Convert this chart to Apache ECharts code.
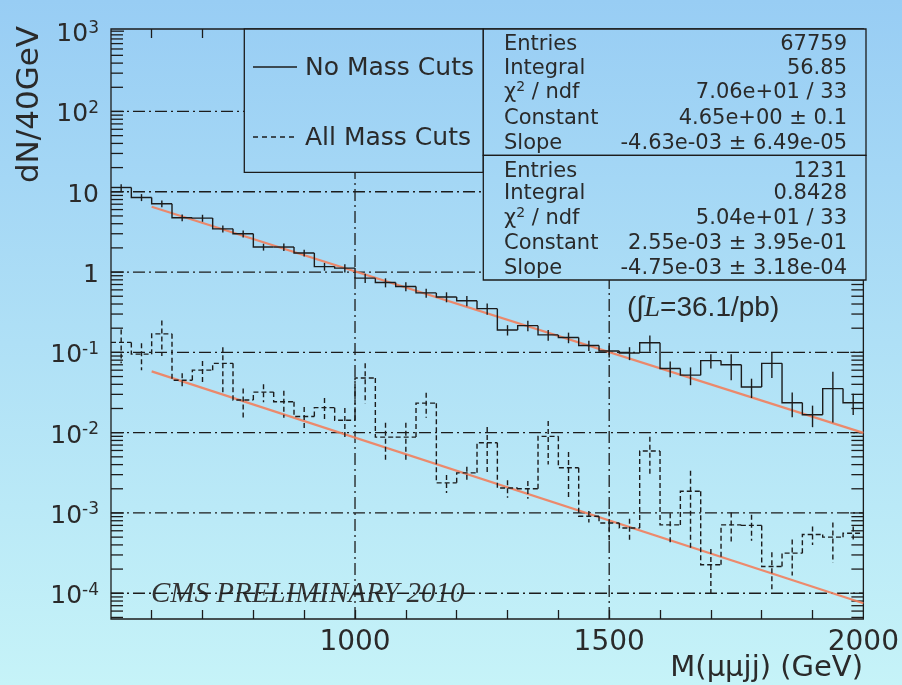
<!DOCTYPE html>
<html>
<head>
<meta charset="utf-8">
<script src="https://cdn.jsdelivr.net/npm/echarts@6/dist/echarts.min.js"></script>
<style>
  html, body { margin: 0; padding: 0; }
  #chart { width: 902px; height: 685px; }
</style>
</head>
<body>
<div id="chart"></div>
<script>
// ---- histogram binning: 40 GeV bins from 520 to 2000 GeV ----
const binLow = 520;
const binWidth = 40;

// dN/40GeV, no mass cuts (solid) and bin errors
const noCutVals = [11.3, 8.5, 7.1, 4.75, 4.7, 3.45, 3.0, 2.05, 2.05, 1.73,
                   1.17, 1.12, 0.84, 0.74, 0.66, 0.55, 0.49, 0.44, 0.35, 0.19,
                   0.215, 0.165, 0.153, 0.122, 0.104, 0.098, 0.132, 0.063, 0.052, 0.079,
                   0.07, 0.037, 0.073, 0.0236, 0.0167, 0.0354, 0.0236];
const noCutErrs = [1.1, 0.85, 0.7, 0.47, 0.47, 0.35, 0.3, 0.2, 0.22, 0.17,
                   0.13, 0.13, 0.11, 0.095, 0.085, 0.07, 0.07, 0.065, 0.055, 0.028,
                   0.032, 0.025, 0.023, 0.018, 0.018, 0.018, 0.03, 0.014, 0.013, 0.016,
                   0.025, 0.01, 0.025, 0.008, 0.005, 0.022, 0.007];

// dN/40GeV, all mass cuts (dashed) and bin errors
const allCutVals = [0.133, 0.095, 0.17, 0.045, 0.06, 0.073, 0.0255, 0.032, 0.0243, 0.0159,
                    0.0205, 0.0143, 0.048, 0.0088, 0.0088, 0.0233, 0.00237, 0.00316, 0.0075, 0.00205,
                    0.002, 0.009, 0.00365, 0.00091, 0.00075, 0.00065, 0.0059, 0.00071, 0.00186, 0.000226,
                    0.00071, 0.0007, 0.000215, 0.000316, 0.00054, 0.0005, 0.00056];
const allCutErrs = [0.06, 0.035, 0.08, 0.01, 0.018, 0.043, 0.01, 0.008, 0.009, 0.005,
                    0.0065, 0.006, 0.025, 0.0045, 0.0045, 0.008, 0.0006, 0.0006, 0.0043, 0.0005,
                    0.0005, 0.005, 0.0021, 0.00015, 0.0003, 0.0002, 0.003, 0.00028, 0.0015, 0.00013,
                    0.0003, 0.00025, 0.00011, 0.00015, 0.00014, 0.00026, 0.00012];

// exponential fits: f(x) = exp(constant + slope * x)
const fitRange = [600, 2000];
const fitNoCut = [4.65, -4.63e-3];
const fitAllCut = [2.55e-3, -4.75e-3];

// stat box contents
const statLabels = ['Entries', 'Integral', 'CHI2', 'Constant', 'Slope'];
const statsNoCut = ['67759', '56.85', '7.06e+01 / 33', '4.65e+00 \u00b1 0.1', '-4.63e-03 \u00b1 6.49e-05'];
const statsAllCut = ['1231', '0.8428', '5.04e+01 / 33', '2.55e-03 \u00b1 3.95e-01', '-4.75e-03 \u00b1 3.18e-04'];

// axes
const xMin = 520, xMax = 2000;
const yMin = 4.78e-5, yMax = 1064;
const xLabelVals = [1000, 1500, 2000];
const xTickVals = [600, 700, 800, 900, 1000, 1100, 1200, 1300, 1400, 1500, 1600, 1700, 1800, 1900];
const yDecades = [1e-4, 1e-3, 1e-2, 1e-1, 1, 10, 100, 1000];
const xGridVals = [1000, 1500];

const INK = '#1c1c1c';
const TXT = '#2a2a2a';
const bgStops = [{ offset: 0, color: '#98cdf4' }, { offset: 1, color: '#c6f3f8' }];

document.body.style.background = '#b0e0f6';
const chart = echarts.init(document.getElementById('chart'), null, { renderer: 'canvas', width: 902, height: 685 });

function histSeries(name, vals, errs, dashed) {
  const data = vals.map((v, k) => [binLow + k * binWidth, binLow + (k + 1) * binWidth, v, k ? vals[k - 1] : v, errs[k]]);
  return {
    type: 'custom', name: name, z: 6, silent: true,
    encode: { x: [0, 1], y: 2 },
    data: data,
    renderItem: function (params, api) {
      const x0 = api.value(0), x1 = api.value(1), v = api.value(2), pv = api.value(3), e = api.value(4);
      const a = api.coord([x0, pv]), b = api.coord([x0, v]), c = api.coord([x1, v]);
      const xc = (x0 + x1) / 2;
      const hi = api.coord([xc, Math.min(v + e, yMax)]);
      const lo = api.coord([xc, Math.max(v - e, yMin)]);
      const style = { stroke: INK, lineWidth: 1.4, fill: null, lineDash: dashed ? [5, 3] : null };
      return {
        type: 'group',
        children: [
          { type: 'polyline', shape: { points: [a, b, c] }, style: style },
          { type: 'line', shape: { x1: hi[0], y1: hi[1], x2: lo[0], y2: lo[1] }, style: style }
        ]
      };
    }
  };
}

function fitSeries(par) {
  return {
    type: 'line', z: 4, silent: true, showSymbol: false, animation: false,
    data: fitRange.map(x => [x, Math.exp(par[0] + par[1] * x)]),
    lineStyle: { color: '#f27e5c', width: 2.2, opacity: 0.9 }
  };
}

// minor/major ticks of the log axis on both frame sides
const yTickData = [];
for (let e = -5; e <= 3; e++) {
  for (let m = 1; m <= 9; m++) {
    const v = m * Math.pow(10, e);
    if (v > yMin && v < yMax) yTickData.push([xMin, v, m === 1 ? 1 : 0]);
  }
}

const gridData = yDecades.filter(v => v < 500).map(v => [xMin, v, 0])
  .concat(xGridVals.map(x => [x, yMin, 1]));

function supLabel(v) {
  const p = Math.round(Math.log10(v));
  if (p === 0) return '{b|1}';
  if (p === 1) return '{b|10}';
  return '{b|10}{s|' + p + '}';
}

const boxFill = new echarts.graphic.LinearGradient(0, 0, 0, 685, bgStops, true);

const graphics = [];
// legend box
graphics.push({ type: 'rect', z: 50, shape: { x: 244.3, y: 29, width: 239, height: 143.3 },
  style: { fill: boxFill, stroke: INK, lineWidth: 1.3 } });
graphics.push({ type: 'line', z: 51, shape: { x1: 253, y1: 67, x2: 297, y2: 67 }, style: { stroke: INK, lineWidth: 1.4 } });
graphics.push({ type: 'line', z: 51, shape: { x1: 253, y1: 137, x2: 297, y2: 137 }, style: { stroke: INK, lineWidth: 1.4, lineDash: [5, 4] } });
graphics.push({ type: 'text', z: 51, x: 305, y: 68, style: { text: 'No Mass Cuts', font: '25px "DejaVu Sans"', fill: TXT, textAlign: 'left', textVerticalAlign: 'middle' } });
graphics.push({ type: 'text', z: 51, x: 305, y: 138, style: { text: 'All Mass Cuts', font: '25px "DejaVu Sans"', fill: TXT, textAlign: 'left', textVerticalAlign: 'middle' } });

// stat boxes
const statBoxes = [
  { top: 29, height: 126.3, rows: [45, 68.5, 92.5, 119, 144], vals: statsNoCut },
  { top: 155.3, height: 124.7, rows: [171.5, 194, 218.5, 244, 269], vals: statsAllCut }
];
const statRich = {
  g: { fontSize: 21, fontFamily: 'DejaVu Sans', fill: TXT, lineHeight: 24 },
  s: { fontSize: 14, fontFamily: 'DejaVu Sans', fill: TXT, lineHeight: 12, verticalAlign: 'top' }
};
statBoxes.forEach(box => {
  graphics.push({ type: 'rect', z: 50, shape: { x: 483.3, y: box.top, width: 382.7, height: box.height },
    style: { fill: boxFill, stroke: INK, lineWidth: 1.3 } });
  statLabels.forEach((lab, i) => {
    const txt = lab === 'CHI2' ? '{g|\u03c7}{s|2}{g| / ndf}' : '{g|' + lab + '}';
    graphics.push({ type: 'text', z: 51, x: 504, y: box.rows[i],
      style: { text: txt, rich: statRich, textAlign: 'left', textVerticalAlign: 'middle' } });
    graphics.push({ type: 'text', z: 51, x: 847, y: box.rows[i],
      style: { text: box.vals[i], font: '21px "DejaVu Sans"', fill: TXT, textAlign: 'right', textVerticalAlign: 'middle' } });
  });
});

// luminosity note
graphics.push({ type: 'text', z: 51, x: 627, y: 308,
  style: { text: '{n|(\u222b}{i|L}{n|=36.1/pb)}', textAlign: 'left', textVerticalAlign: 'middle',
    rich: {
      n: { fontSize: 28, fontFamily: 'Liberation Sans', fill: TXT },
      i: { fontSize: 29, fontFamily: 'Liberation Serif', fontStyle: 'italic', fill: TXT }
    } } });

// preliminary stamp
graphics.push({ type: 'text', z: 0, x: 151, y: 594,
  style: { text: 'CMS PRELIMINARY 2010', font: 'italic 29px "Liberation Serif"', fill: '#333333', textAlign: 'left', textVerticalAlign: 'middle' } });

// axis titles
graphics.push({ type: 'text', z: 51, x: 30, y: 26, rotation: Math.PI / 2,
  style: { text: 'dN/40GeV', font: '31px "DejaVu Sans"', fill: TXT, textAlign: 'right', textVerticalAlign: 'middle' } });
graphics.push({ type: 'text', z: 51, x: 863, y: 668,
  style: { text: 'M(\u03bc\u03bcjj) (GeV)', font: '29px "DejaVu Sans"', fill: TXT, textAlign: 'right', textVerticalAlign: 'middle' } });

const option = {
  animation: false,
  backgroundColor: { type: 'linear', x: 0, y: 0, x2: 0, y2: 1, colorStops: bgStops },
  grid: { left: 111, right: 36, top: 29, bottom: 66, show: true, borderColor: INK, borderWidth: 1.3, backgroundColor: 'transparent' },
  xAxis: [
    {
      type: 'value', min: xMin, max: xMax, position: 'bottom',
      axisLine: { show: false }, splitLine: { show: false },
      axisTick: { show: true, inside: true, length: 9, customValues: xTickVals, lineStyle: { color: INK, width: 1.3 } },
      axisLabel: { customValues: xLabelVals, margin: 10, fontSize: 28, fontFamily: 'DejaVu Sans', color: TXT,
        formatter: v => String(v) }
    },
    {
      type: 'value', min: xMin, max: xMax, position: 'top',
      axisLine: { show: false }, splitLine: { show: false },
      axisTick: { show: true, inside: true, length: 9, customValues: xTickVals, lineStyle: { color: INK, width: 1.3 } },
      axisLabel: { show: false }
    }
  ],
  yAxis: {
    type: 'log', logBase: 10, min: yMin, max: yMax,
    axisLine: { show: false }, splitLine: { show: false }, axisTick: { show: false },
    axisLabel: {
      customValues: yDecades, margin: 12, padding: [7, 0, 0, 0],
      formatter: supLabel,
      rich: {
        b: { fontSize: 25, fontFamily: 'DejaVu Sans', color: TXT, lineHeight: 30 },
        s: { fontSize: 17, fontFamily: 'DejaVu Sans', color: TXT, lineHeight: 14, verticalAlign: 'top' }
      }
    }
  },
  series: [
    {
      type: 'custom', z: 3, silent: true, encode: { x: 0, y: 1 }, data: gridData,
      renderItem: function (params, api) {
        const kind = api.value(2);
        let p, q;
        if (kind === 0) { p = api.coord([xMin, api.value(1)]); q = api.coord([xMax, api.value(1)]); }
        else { p = api.coord([api.value(0), yMin]); q = api.coord([api.value(0), yMax]); }
        return { type: 'line', shape: { x1: p[0], y1: p[1], x2: q[0], y2: q[1] },
          style: { stroke: INK, lineWidth: 1.3, lineDash: [12, 4, 2, 4] } };
      }
    },
    {
      type: 'custom', z: 3, silent: true, encode: { x: 0, y: 1 }, data: yTickData,
      renderItem: function (params, api) {
        const v = api.value(1);
        const len = api.value(2) ? 13 : 12;
        const p = api.coord([xMin, v]), q = api.coord([xMax, v]);
        const style = { stroke: INK, lineWidth: 1.3 };
        return { type: 'group', children: [
          { type: 'line', shape: { x1: p[0], y1: p[1], x2: p[0] + len, y2: p[1] }, style: style },
          { type: 'line', shape: { x1: q[0] - len, y1: q[1], x2: q[0], y2: q[1] }, style: style }
        ] };
      }
    },
    fitSeries(fitNoCut),
    fitSeries(fitAllCut),
    histSeries('No Mass Cuts', noCutVals, noCutErrs, false),
    histSeries('All Mass Cuts', allCutVals, allCutErrs, true)
  ],
  graphic: graphics
};

chart.setOption(option);
</script>
</body>
</html>
